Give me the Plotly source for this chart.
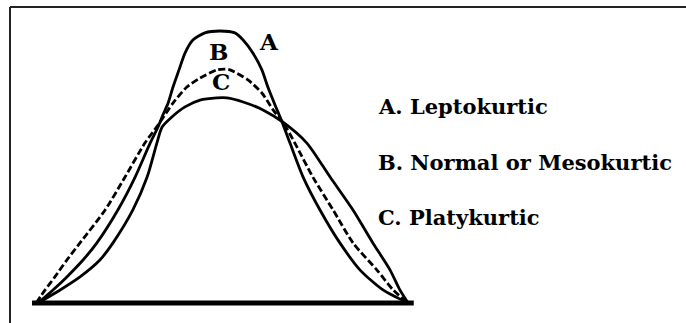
import plotly.graph_objects as go

# Curve A: Leptokurtic (solid)
a_x = [0.8, 4.8, 8.5, 12.8, 16.5, 22.1, 26.7, 30.7, 32.8, 34.1, 35.5, 36.8, 38.4, 40, 42.1,
       45.3, 49.3, 53.3, 55.5, 58.1, 60.5, 62.1, 64, 65.9, 68, 71.5, 76, 81.3, 86.7, 92.8, 99.5]
a_y = [0, 4.8, 9.6, 15.8, 22.1, 34.2, 46.3, 58.8, 64.7, 69.1, 73.5, 79.4, 85.7, 91.9, 96.7,
       99.3, 100, 99.3, 96.7, 91.9, 85.7, 79.4, 72.8, 66.5, 58.8, 46.3, 34.2, 22.1, 12.1, 4.8, 0]

# Curve B: Normal / Mesokurtic (dashed)
b_x = [0.3, 2.7, 5.3, 8.5, 12, 18.7, 24, 29.3, 32.8, 36.8, 40.5, 44, 48.5, 50.7, 52, 56.8,
       60.5, 63.5, 66.4, 69.3, 74.1, 79.5, 84.8, 91.2, 95.5, 99.5]
b_y = [0, 4.8, 9.6, 15.8, 22.1, 34.2, 46.3, 58.8, 65.4, 73.5, 79.4, 82.7, 85.7, 86.0, 85.7,
       82.0, 77.2, 71.0, 65.8, 58.8, 46.3, 34.2, 22.1, 12.1, 4.8, 0]

# Curve C: Platykurtic (solid)
c_x = [0.8, 6.7, 12, 17.3, 20.8, 26.1, 29.9, 32.5, 33.9, 36.5, 40, 44, 48.5, 51.2, 55.5,
       60.8, 66.4, 72.5, 78.7, 84.8, 90.1, 94.7, 97.3, 99.5]
c_y = [0, 4.8, 9.6, 15.8, 22.1, 34.2, 46.3, 58.8, 64.7, 68.4, 72.1, 74.6, 75.4, 75.4, 73.9,
       71.0, 66.2, 58.8, 46.3, 34.2, 22.1, 12.1, 4.8, 0]

base_x = [-0.8, 101]
base_y = [0, 0]

curve_labels = ["A", "B", "C"]
label_x = [62.4, 48.8, 49.6]
label_y = [96.3, 92.3, 81.3]

legend_texts = ["A. Leptokurtic", "B. Normal or Mesokurtic", "C. Platykurtic"]
legend_y = [72.1, 51.5, 31.6]
legend_x = 90.9

fig = go.Figure()
fig.add_trace(go.Scatter(x=base_x, y=base_y, mode="lines",
                         line=dict(color="black", width=5), hoverinfo="skip"))
fig.add_trace(go.Scatter(x=c_x, y=c_y, mode="lines",
                         line=dict(color="black", width=2.8, shape="spline", smoothing=0.7)))
fig.add_trace(go.Scatter(x=b_x, y=b_y, mode="lines",
                         line=dict(color="black", width=2.8, shape="spline", smoothing=0.7,
                                   dash="7px,3px")))
fig.add_trace(go.Scatter(x=a_x, y=a_y, mode="lines",
                         line=dict(color="black", width=2.8, shape="spline", smoothing=0.7)))

for t, x, y in zip(curve_labels, label_x, label_y):
    fig.add_annotation(x=x, y=y, text=t, showarrow=False, xanchor="center", yanchor="middle",
                       font=dict(family="DejaVu Serif", size=23, color="black", weight="bold"))

for t, y in zip(legend_texts, legend_y):
    fig.add_annotation(x=legend_x, y=y, text=t, showarrow=False, xanchor="left", yanchor="middle",
                       font=dict(family="DejaVu Serif", size=21, color="black", weight="bold"))

# frame (left and top edges)
fig.add_shape(type="line", xref="paper", yref="paper", x0=10 / 686, x1=10 / 686,
              y0=0, y1=1 - 7 / 323, line=dict(color="#222", width=2))
fig.add_shape(type="line", xref="paper", yref="paper", x0=10 / 686, x1=1,
              y0=1 - 7 / 323, y1=1 - 7 / 323, line=dict(color="#222", width=2))

fig.update_layout(
    width=686, height=323,
    margin=dict(l=0, r=0, t=0, b=0),
    paper_bgcolor="white", plot_bgcolor="white",
    showlegend=False,
    hovermode=False,
    xaxis=dict(range=[-9.333, 173.6], visible=False, fixedrange=True),
    yaxis=dict(range=[-7.353, 111.397], visible=False, fixedrange=True),
)

fig.write_html("out.html", config={"displayModeBar": False},
               post_script="document.body.style.margin='0px';")
